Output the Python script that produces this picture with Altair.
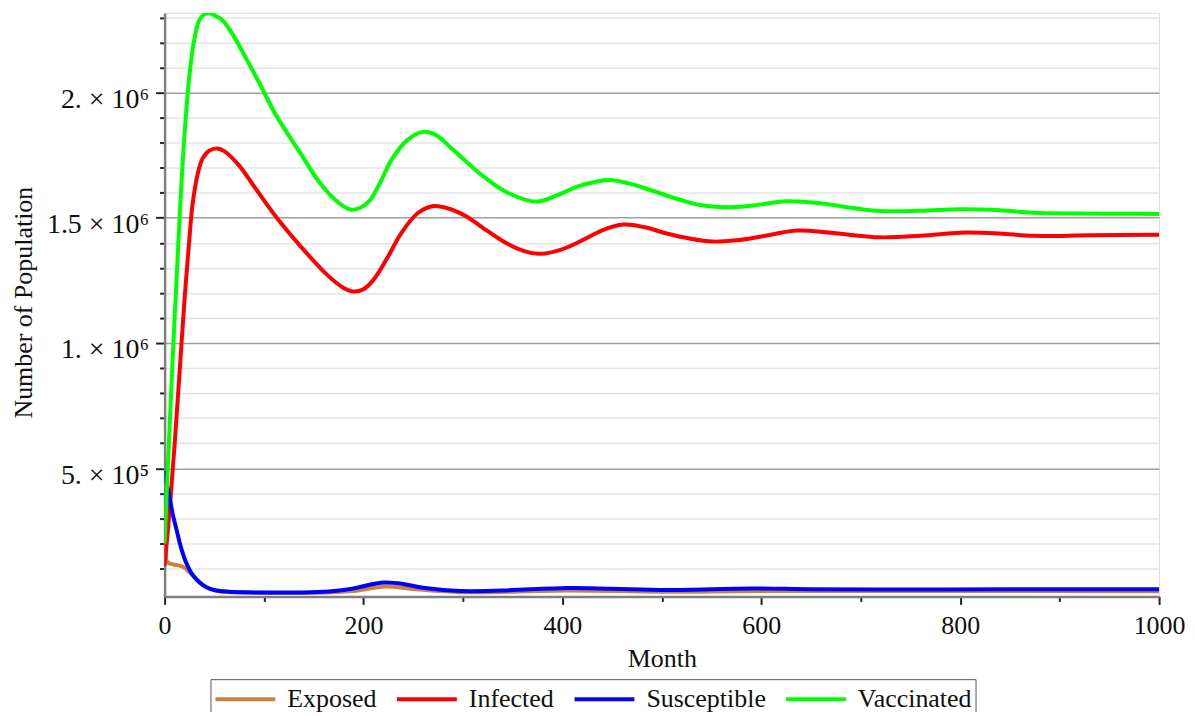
import altair as alt
import pandas as pd

series_names = ["Exposed", "Infected", "Susceptible", "Vaccinated"]
series_colors = ["#C8843F", "#FF0000", "#0000FF", "#00FF00"]

exposed_month = [0, 1, 2, 5, 10, 16, 20, 25, 30, 35, 40, 45, 50, 60, 80, 150, 190, 222, 250, 297, 405, 500, 600, 1000]
exposed_value = [350000, 160000, 130000, 120000, 115000, 110000, 103000, 85000, 65000, 45000, 30000, 20000,
                 13000, 7000, 4000, 3000, 10000, 28000, 18000, 5000, 12000, 7000, 10000, 9000]

infected_month = [0, 5, 10, 15, 20, 25, 28, 33, 38, 45, 53, 60, 75, 90, 112, 137, 164, 180, 190, 200,
                  210, 224, 238, 255, 271, 287, 304, 320, 338, 356, 376, 398, 421, 440, 461, 483, 505, 528,
                  551, 575, 600, 636, 670, 719, 760, 806, 840, 873, 930, 1000]
infected_value = [110000, 330000, 590000, 880000, 1170000, 1420000, 1550000, 1670000, 1735000, 1768000,
                  1777000, 1766000, 1708000, 1625000, 1504000, 1385000, 1270000, 1220000, 1206000, 1215000,
                  1252000, 1340000, 1439000, 1520000, 1547000, 1535000, 1504000, 1460000, 1412000, 1375000,
                  1356000, 1372000, 1412000, 1450000, 1473000, 1462000, 1437000, 1417000, 1405000, 1410000,
                  1425000, 1449000, 1440000, 1422000, 1428000, 1441000, 1437000, 1428000, 1430000, 1432000]

susceptible_month = [0, 2, 5, 8, 12, 16, 21, 28, 35, 42, 52, 65, 80, 100, 137, 165, 190, 210, 222, 240,
                     260, 297, 340, 405, 450, 505, 590, 650, 750, 850, 1000]
susceptible_value = [490000, 440000, 385000, 320000, 255000, 190000, 130000, 75000, 45000, 25000,
                     12000, 7000, 5000, 4000, 4000, 8000, 20000, 38000, 44000, 38000,
                     23000, 10000, 12000, 22000, 19000, 14000, 20000, 17000, 16000, 17000, 17000]

vaccinated_month = [0, 3, 6, 9, 12, 16, 20, 25, 30, 35, 40, 45, 50, 58, 68, 78, 95, 112, 137, 157,
                    175, 187, 197, 207, 218, 228, 244, 260, 273, 287, 304, 321, 345, 374, 395, 415, 435, 451,
                    475, 498, 520, 538, 562, 590, 625, 660, 690, 719, 760, 800, 840, 873, 920, 960, 1000]
vaccinated_value = [200000, 480000, 750000, 1010000, 1250000, 1570000, 1830000, 2070000, 2215000, 2290000,
                    2312000, 2316000, 2308000, 2290000, 2235000, 2165000, 2040000, 1910000, 1755000, 1635000,
                    1560000, 1533000, 1540000, 1572000, 1650000, 1730000, 1810000, 1843000, 1830000, 1783000,
                    1722000, 1664000, 1600000, 1564000, 1590000, 1624000, 1645000, 1650000, 1628000, 1598000,
                    1570000, 1551000, 1542000, 1548000, 1566000, 1558000, 1540000, 1527000, 1528000, 1534000,
                    1530000, 1520000, 1517000, 1516000, 1515000]

y_tick_values = [i * 100000 for i in range(1, 24)]
x_tick_values = list(range(0, 1001, 100))

rows = []
for name, months, values in [
    ("Exposed", exposed_month, exposed_value),
    ("Infected", infected_month, infected_value),
    ("Susceptible", susceptible_month, susceptible_value),
    ("Vaccinated", vaccinated_month, vaccinated_value),
]:
    for m, v in zip(months, values):
        rows.append({"Month": m, "Population": v, "Series": name})
df = pd.DataFrame(rows)

FONT = "Liberation Serif"

y_label_expr = (
    "datum.value == 500000 ? '5. \u00d7 10\u2075' : "
    "datum.value == 1000000 ? '1. \u00d7 10\u2076' : "
    "datum.value == 1500000 ? '1.5 \u00d7 10\u2076' : "
    "datum.value == 2000000 ? '2. \u00d7 10\u2076' : ''"
)

x_axis = alt.Axis(
    values=x_tick_values,
    labelExpr="datum.value % 200 === 0 ? datum.value : ''",
    grid=False,
    tickSize=alt.condition("datum.value % 200 === 0", alt.value(8), alt.value(5)),
    tickColor="#222222",
    tickWidth=2,
    domainColor="#808080",
    domainWidth=2.5,
    labelFont=FONT,
    labelFontSize=26,
    labelColor="#111111",
    labelBaseline="alphabetic",
    labelPadding=29,
    labelFlush=False,
    labelOverlap=False,
    labelBound=False,
    title="Month",
    titleFont=FONT,
    titleFontSize=26,
    titleFontWeight="normal",
    titleColor="#111111",
    titleBaseline="alphabetic",
    titleY=70,
)

y_axis = alt.Axis(
    values=y_tick_values,
    labelExpr=y_label_expr,
    grid=True,
    gridColor=alt.condition("datum.value % 500000 === 0", alt.value("#a0a0a0"), alt.value("#e4e4e4")),
    gridWidth=1.5,
    tickSize=alt.condition("datum.value % 500000 === 0", alt.value(9), alt.value(5)),
    tickColor="#222222",
    tickWidth=2,
    domainColor="#808080",
    domainWidth=2.5,
    labelFont=FONT,
    labelFontSize=28,
    labelColor="#111111",
    labelBaseline="alphabetic",
    labelOffset=15,
    labelPadding=7,
    labelFlush=False,
    labelOverlap=False,
    labelBound=False,
    title="Number of Population",
    titleFont=FONT,
    titleFontSize=26,
    titleFontWeight="normal",
    titleColor="#111111",
    titleBaseline="alphabetic",
    titleAlign="center",
    titleX=-133,
    titleY=290,
)

legend = alt.Legend(
    title=None,
    orient="none",
    legendX=46,
    legendY=668,
    direction="horizontal",
    symbolType="M-2,0L2,0",
    symbolSize=900,
    symbolStrokeWidth=4,
    symbolOffset=15,
    labelFont=FONT,
    labelFontSize=26,
    labelColor="#111111",
    labelOffset=25,
    columnPadding=12,
    padding=3,
    strokeColor="#555555",
    fillColor="white",
    labelLimit=300,
)

chart = (
    alt.Chart(df)
    .mark_line(strokeWidth=4, interpolate="catmull-rom", clip=True)
    .encode(
        x=alt.X("Month:Q", scale=alt.Scale(domain=[0, 1000], nice=False, zero=False), axis=x_axis),
        y=alt.Y("Population:Q", scale=alt.Scale(domain=[-11600, 2318000], nice=False, zero=False), axis=y_axis),
        color=alt.Color("Series:N", scale=alt.Scale(domain=series_names, range=series_colors), legend=legend),
        detail="Series:N",
    )
    .properties(
        width=997,
        height=585,
        autosize=alt.AutoSizeParams(type="none"),
        padding={"left": 157, "top": 4, "right": 28, "bottom": 115},
    )
    .configure_view(stroke=None)
    .configure(background="white")
)

chart.save("out.html", embed_options={"renderer": "svg", "actions": False})
